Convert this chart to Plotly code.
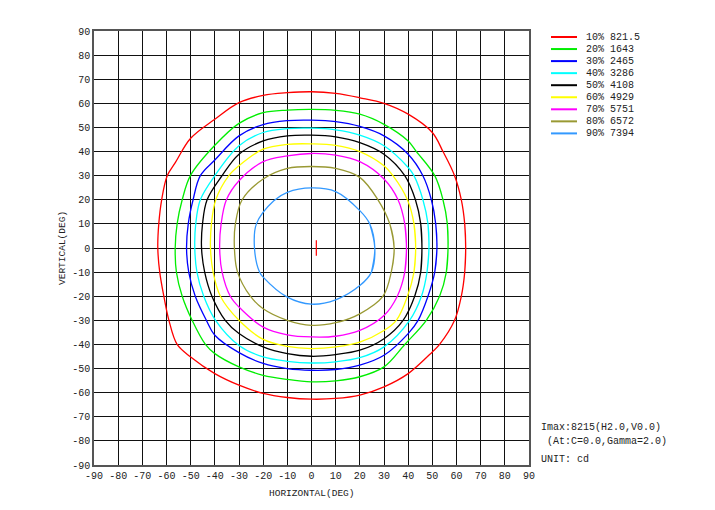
import plotly.graph_objects as go

# ---------------- data ----------------
ticks = list(range(-90, 91, 10))
tick_text = [str(t) for t in ticks]

levels_pct = ["10%", "20%", "30%", "40%", "50%", "60%", "70%", "80%", "90%"]
levels_cd = ["821.5", "1643", "2465", "3286", "4108", "4929", "5751", "6572", "7394"]
colors = ["#FF0000", "#00EE00", "#0000FF", "#00FFFF", "#000000",
          "#FFFF00", "#FF00FF", "#999933", "#3399FF"]

# iso-candela contours: horizontal (H) and vertical (V) angle, degrees
H10 = [63.8, 63.4, 62, 59.2, 54.4, 50, 40, 30, 20, 10, 0, -10, -20, -30, -40, -50, -56.3, -59.7, -62, -63.2,
       -63.6, -62.8, -61.1, -59, -55.6, -50, -40, -30, -20, -10, 0, 10, 20, 30, 40, 50, 53, 59.2, 62, 63.4]
V10 = [0, 10, 20, 30, 40, 47.9, 55.5, 60, 62.3, 64.1, 64.8, 64.4, 63.3, 60.3, 53.4, 45.5, 35.5, 30, 20, 10,
       0, -10, -20, -30, -40, -45.2, -52.1, -56.9, -60.3, -62, -62.7, -62.4, -61, -57.6, -52.1, -43.1, -40, -30, -20, -10]

H20 = [56.5, 56.2, 54.4, 51, 43.4, 40, 30, 20, 10, 0, -10, -20, -30, -40, -50, -53.5, -55.6, -56.4,
       -55.9, -53.5, -49.4, -43.9, -40, -30, -20, -10, 0, 10, 20, 30, 38.6, 47.5, 53, 55.8]
V20 = [0, 10, 20, 30, 40, 44.4, 51.3, 55.5, 57.1, 57.5, 57.2, 56.1, 51.7, 42.6, 30.2, 20, 10, 0,
       -10, -20, -30, -40, -43.8, -49.3, -52.8, -54.5, -55.5, -55.1, -53.4, -49.3, -40, -30, -20, -10]

H30 = [51.9, 51.4, 49.6, 46.1, 40, 30, 20, 10, 0, -10, -20, -30, -40, -46, -49, -51, -51.7,
       -50.8, -48.1, -43.5, -40, -30, -20, -10, 0, 10, 20, 30, 40, 44.1, 48.2, 51]
V30 = [0, 10, 20, 30, 38.9, 46.5, 50.4, 52.4, 53, 52.8, 51.2, 46.5, 36.5, 30, 20, 10, 0,
       -10, -20, -30, -36.2, -43.4, -47.9, -50, -50.7, -50.4, -48.6, -44.5, -35.5, -30, -20, -10]

H40 = [48.6, 48.2, 46.1, 42.4, 40, 30, 20, 10, 0, -10, -20, -30, -40, -46, -47.9, -48.3,
       -47.4, -44.6, -39.7, -30, -20, -10, 0, 10, 20, 30, 40.6, 45.5, 47.8]
V40 = [0, 10, 20, 30, 33.4, 42.4, 46.8, 49, 49.7, 49.5, 47.9, 42.4, 30, 20, 10, 0,
       -10, -20, -30, -40.4, -45.2, -47, -47.7, -47.2, -45.5, -41, -30, -20, -10]

H50 = [45.7, 45.2, 43, 38.6, 30, 20, 10, 0, -10, -20, -30, -37, -43.2, -45.1, -45.5,
       -44.2, -41.2, -35.7, -30, -20, -10, 0, 10, 20, 30, 37.9, 42.7, 45.2]
V50 = [0, 10, 20, 30, 38.9, 43.7, 46.1, 46.8, 46.5, 44.4, 38.9, 30, 20, 10, 0,
       -10, -20, -30, -35.5, -41, -43.8, -44.9, -44.2, -42.4, -37.6, -30, -20, -10]

H60 = [43.1, 42.4, 39.7, 33.7, 30, 20, 10, 0, -10, -20, -30, -34.2, -39.6, -41.4, -41.8,
       -40.7, -37.7, -30, -20, -10, 0, 10, 20, 30, 35.1, 39.7, 42.4]
V60 = [0, 10, 20, 30, 34.1, 40, 42.6, 43.2, 43, 41, 34.1, 30, 20, 10, 0,
       -10, -20, -30, -37.9, -40.8, -41.7, -41, -39, -34.2, -30, -20, -10]

H70 = [39.3, 38.6, 35.8, 30, 20, 10, 0, -10, -20, -30, -35.2, -37.4, -38,
       -37, -33.6, -30, -20, -10, 0, 10, 20, 30, 35.5, 38.6]
V70 = [0, 10, 20, 28.6, 35.8, 38.5, 39.2, 38.2, 35.8, 27.9, 20, 10, 0,
       -10, -20, -24.5, -32.8, -36, -36.9, -36.6, -34.2, -28, -20, -10]

H80 = [34.2, 32.4, 27.5, 20, 10, 0, -10, -20, -28.7, -31.5, -31.9,
       -30.6, -25.3, -20, -10, 0, 10, 20, 29.6, 33]
V80 = [0, 10, 20, 29.3, 33, 33.8, 33, 28.6, 20, 10, 0,
       -10, -20, -25.2, -30, -32.1, -31, -27.3, -20, -10]

H90 = [26.2, 24.1, 20, 10, 0, -10, -15.6, -22.8, -23.6, -21.5, -20, -10, 0, 10, 20, 24.8]
V90 = [0, 10, 15.5, 23.4, 24.9, 23.1, 19.6, 10, 0, -10, -12.1, -20.4, -23.3, -21.5, -15.6, -10]

contours_h = [H10, H20, H30, H40, H50, H60, H70, H80, H90]
contours_v = [V10, V20, V30, V40, V50, V60, V70, V80, V90]

imax_h = [2.0]
imax_v = [0.0]
info_lines = ["Imax:8215(H2.0,V0.0)", " (At:C=0.0,Gamma=2.0)", "UNIT: cd"]

# ---------------- figure ----------------
FONT = "Liberation Mono"
fig = go.Figure()


def wrap(seq):
    # close the loop, overlapping one segment at each end so the spline stays smooth
    return [seq[-1]] + list(seq) + [seq[0], seq[1]]


for hx, vy, col, p, c in zip(contours_h, contours_v, colors, levels_pct, levels_cd):
    fig.add_trace(go.Scatter(
        x=wrap(hx), y=wrap(vy), mode="lines",
        line=dict(color=col, width=1.3, shape="spline", smoothing=1.0),
        name=f"{p} {c}", showlegend=False, hoverinfo="skip"))

fig.add_trace(go.Scatter(
    x=imax_h, y=imax_v, mode="markers",
    marker=dict(symbol="line-ns", size=11, line=dict(color="#FF0000", width=1.2)),
    showlegend=False, hoverinfo="skip"))

# layout geometry (pixels)
W, H = 715, 510
L, R, T, B = 94, 186, 31, 45
pw, ph = W - L - R, H - T - B


def px_x(p):
    return (p - L) / pw


def px_y(p):
    return (H - B - p) / ph


shapes = []
annotations = []
for i, (col, p, c) in enumerate(zip(colors, levels_pct, levels_cd)):
    yy = px_y(37 + 12.05 * i)
    shapes.append(dict(type="line", xref="paper", yref="paper",
                       x0=px_x(551), x1=px_x(577), y0=yy, y1=yy,
                       line=dict(color=col, width=2)))
    annotations.append(dict(xref="paper", yref="paper", x=px_x(584), y=yy,
                            xanchor="left", yanchor="middle", showarrow=False,
                            text=f"{p} {c}", font=dict(family=FONT, size=10, color="#222")))

for j, (t, py) in enumerate(zip(info_lines, [427, 441, 459])):
    annotations.append(dict(xref="paper", yref="paper", x=px_x(539), y=px_y(py),
                            xanchor="left", yanchor="middle", showarrow=False,
                            text=t.replace(" ", "&nbsp;"),
                            font=dict(family=FONT, size=10, color="#222")))

annotations.append(dict(xref="paper", yref="paper", x=0.5, y=px_y(493),
                        xanchor="center", yanchor="middle", showarrow=False,
                        text="HORIZONTAL(DEG)", font=dict(family=FONT, size=9.5, color="#222")))
annotations.append(dict(xref="paper", yref="paper", x=px_x(62), y=px_y(248),
                        xanchor="center", yanchor="middle", showarrow=False, textangle=-90,
                        text="VERTICAL(DEG)", font=dict(family=FONT, size=9.5, color="#222")))

axis_common = dict(range=[-90, 90], tickmode="array", tickvals=ticks, ticktext=tick_text,
                   showgrid=True, gridcolor="#111", gridwidth=1, zeroline=False,
                   showline=True, linecolor="#555", linewidth=1.5, mirror=True,
                   ticks="", tickfont=dict(family=FONT, size=10, color="#222"),
                   fixedrange=True)

fig.update_layout(
    width=W, height=H,
    margin=dict(l=L, r=R, t=T, b=B),
    paper_bgcolor="white", plot_bgcolor="white",
    xaxis=dict(**axis_common),
    yaxis=dict(**axis_common),
    shapes=shapes, annotations=annotations,
    showlegend=False,
)

fig.write_html("out.html")
